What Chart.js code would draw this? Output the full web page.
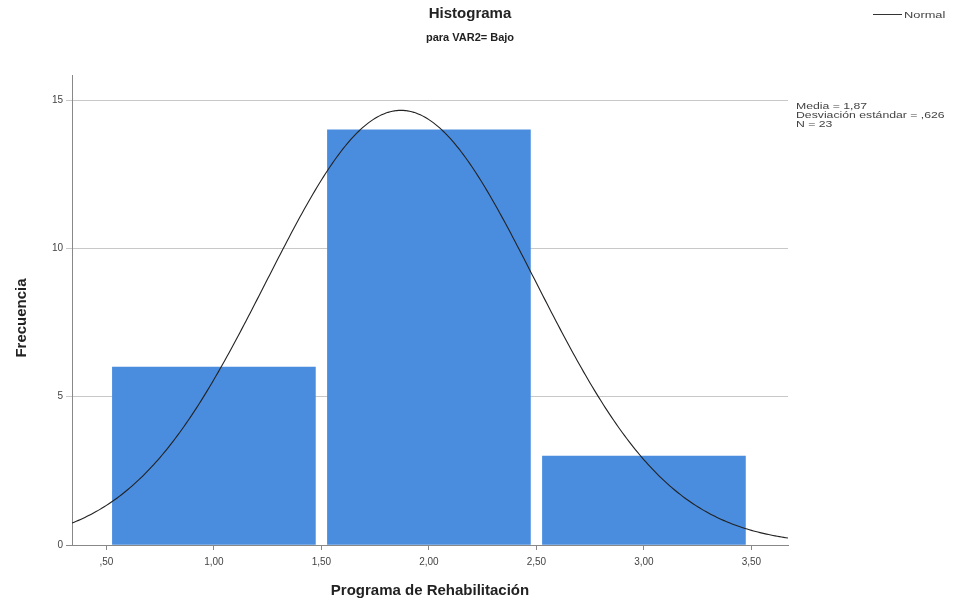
<!DOCTYPE html>
<html>
<head>
<meta charset="utf-8">
<script src="https://cdn.jsdelivr.net/npm/chart.js@4.4.1/dist/chart.umd.min.js"></script>
<style>
html,body{margin:0;padding:0;background:#fff;}
#wrap{width:965px;height:608px;position:relative;}
</style>
</head>
<body>
<div id="wrap"><canvas id="c" width="965" height="608"></canvas></div>
<script>
// ---- data ----
const binCenters = [1, 2, 3];
const frequencies = [6, 14, 3];
const xTickValues = [0.5, 1, 1.5, 2, 2.5, 3, 3.5];
const yTickValues = [0, 5, 10, 15];
const normalMean = 1.87;
const normalSd = 0.626;
const normalN = 23;
const binWidth = 1;
const titleText = 'Histograma';
const subtitleText = 'para VAR2= Bajo';
const xTitle = 'Programa de Rehabilitación';
const yTitle = 'Frecuencia';
const statsLines = ['Media = 1,87', 'Desviación estándar = ,626', 'N = 23'];
const legendLabel = 'Normal';

const xMin = 0.34, xMax = 3.67, yMax = 15.85;

// fitted normal curve defined by the displayed parameters
const curve = [];
for (let i = 0; i <= 333; i++) {
  const x = xMin + i * (xMax - xMin) / 333;
  const z = (x - normalMean) / normalSd;
  curve.push({x: x, y: normalN * binWidth * Math.exp(-0.5 * z * z) / (normalSd * Math.sqrt(2 * Math.PI))});
}

const fmtX = v => {
  let s = v.toFixed(2).replace('.', ',');
  if (s.startsWith('0')) s = s.slice(1);
  return s;
};

const FONT = '"Liberation Sans", Arial, sans-serif';

const textPlugin = {
  id: 'texts',
  afterDraw(chart) {
    const ctx = chart.ctx;
    ctx.save();
    ctx.fillStyle = '#222';
    ctx.textAlign = 'center';
    ctx.textBaseline = 'middle';
    ctx.font = 'bold 15px ' + FONT;
    ctx.fillText(titleText, 470, 14);
    ctx.font = 'bold 11px ' + FONT;
    ctx.fillText(subtitleText, 470, 38);
    ctx.font = 'bold 15px ' + FONT;
    ctx.fillText(xTitle, 430, 591);
    ctx.save();
    ctx.translate(22, 318);
    ctx.rotate(-Math.PI / 2);
    ctx.fillText(yTitle, 0, 0);
    ctx.restore();
    // legend
    ctx.strokeStyle = '#333';
    ctx.lineWidth = 1;
    ctx.beginPath();
    ctx.moveTo(873, 14.5);
    ctx.lineTo(902, 14.5);
    ctx.stroke();
    ctx.textAlign = 'left';
    ctx.fillStyle = '#444';
    ctx.font = '9.5px ' + FONT;
    ctx.save();
    ctx.translate(904, 15);
    ctx.scale(1.35, 1);
    ctx.fillText(legendLabel, 0, 0);
    ctx.restore();
    // stats
    ctx.font = '9px ' + FONT;
    statsLines.forEach((t, i) => {
      ctx.save();
      ctx.translate(796, 107 + i * 8.7);
      ctx.scale(1.36, 1);
      ctx.fillText(t, 0, 0);
      ctx.restore();
    });
    ctx.restore();
  }
};

new Chart(document.getElementById('c'), {
  data: {
    datasets: [
      {
        type: 'line',
        label: legendLabel,
        data: curve,
        borderColor: '#222',
        borderWidth: 1.1,
        pointRadius: 0,
        fill: false,
        tension: 0,
        order: 0
      },
      {
        type: 'bar',
        label: 'Frecuencia',
        data: binCenters.map((c, i) => ({x: c, y: frequencies[i]})),
        backgroundColor: '#4a8ddf',
        borderWidth: 0,
        barThickness: 203,
        order: 1
      }
    ]
  },
  options: {
    responsive: false,
    animation: false,
    layout: {padding: {left: 0, right: 177, top: 75, bottom: 0}},
    plugins: {legend: {display: false}, tooltip: {enabled: false}, title: {display: false}},
    scales: {
      x: {
        type: 'linear',
        offset: false,
        min: xMin, max: xMax,
        afterFit(s) { s.height = 63; },
        afterBuildTicks(s) { s.ticks = xTickValues.map(v => ({value: v})); },
        ticks: {
          callback: v => fmtX(v),
          font: {family: FONT, size: 10},
          color: '#444',
          padding: 6,
          maxRotation: 0
        },
        grid: {display: true, offset: false, drawOnChartArea: false, drawTicks: true, tickLength: 5, color: '#888'},
        border: {display: true, color: '#888', width: 1}
      },
      y: {
        type: 'linear',
        min: 0, max: yMax,
        afterFit(s) { s.width = 72; },
        afterBuildTicks(s) { s.ticks = yTickValues.map(v => ({value: v})); },
        ticks: {
          font: {family: FONT, size: 10},
          color: '#444',
          padding: 3
        },
        grid: {
          display: true, drawOnChartArea: true, drawTicks: true, tickLength: 6,
          color: ctx => ctx.tick && ctx.tick.value === 0 ? '#888' : '#c8c8c8'
        },
        border: {display: true, color: '#888', width: 1}
      }
    }
  },
  plugins: [textPlugin]
});
</script>
</body>
</html>
